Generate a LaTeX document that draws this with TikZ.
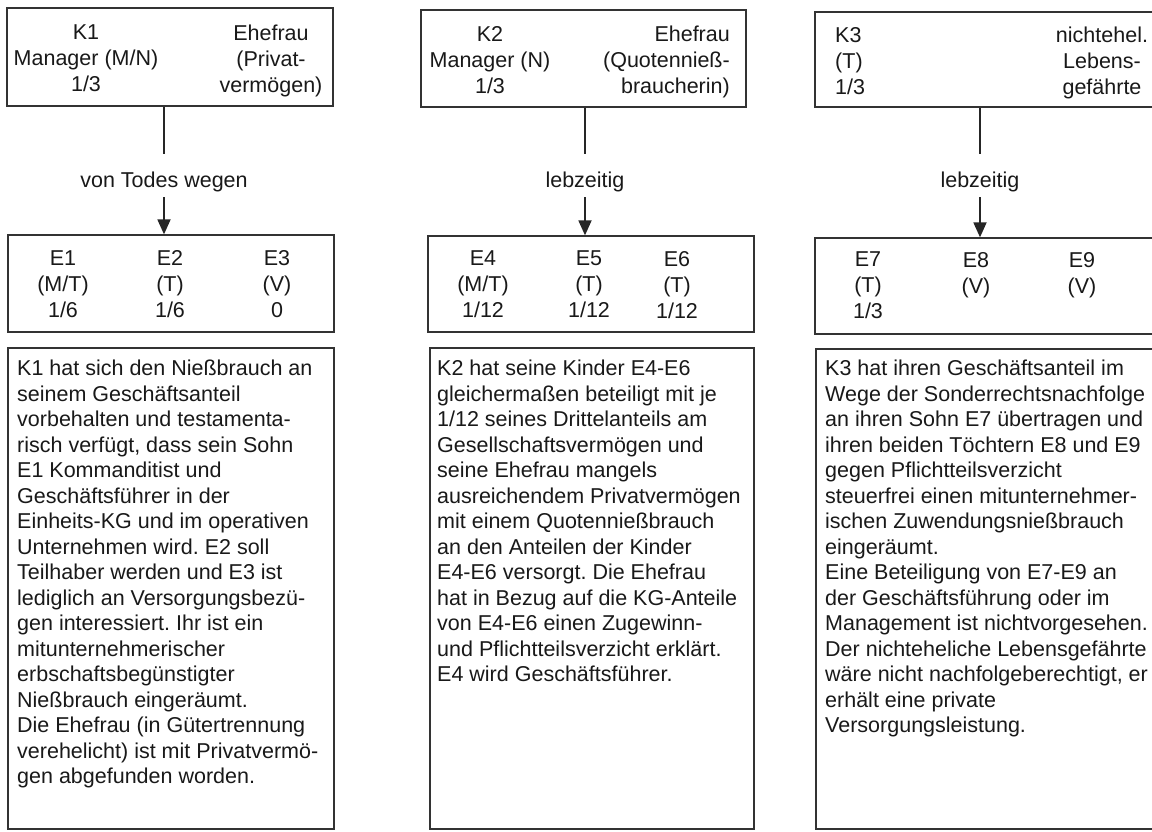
\documentclass[tikz,border=0pt]{standalone}
\usepackage{fontspec}
\setmainfont{Liberation Sans}
\usetikzlibrary{arrows.meta}
\frenchspacing
\begin{document}
\begin{tikzpicture}[x=1pt,y=-1pt,
  box/.style={draw=black!80,line width=1.3pt,rectangle,inner sep=0pt},
  txt/.style={inner sep=0pt,font=\fontsize{21.5pt}{26pt}\selectfont,text=black!90},
  body/.style={inner sep=0pt,anchor=north west,align=left,font=\fontsize{21.5pt}{25.5pt}\selectfont,text=black!90},
  conn/.style={draw=black!85,line width=1.3pt},
  arr/.style={draw=black!85,line width=1.8pt,-{Triangle[width=13pt,length=15pt]}}
]
\useasboundingbox (0,0) rectangle (1152,831);
\clip (0,0) rectangle (1152,831);
\fill[white] (0,0) rectangle (1152,831);

% top boxes
\node[box,minimum width=326pt,minimum height=98pt] (k1) at (170,57) {};
\node[box,minimum width=325pt,minimum height=97pt] (k2) at (583.5,58.5) {};
\node[box,minimum width=350pt,minimum height=95pt] (k3) at (990,59.5) {};

% middle boxes
\node[box,minimum width=326pt,minimum height=97pt] (m1) at (171,283.5) {};
\node[box,minimum width=326pt,minimum height=96pt] (m2) at (591,284) {};
\node[box,minimum width=350pt,minimum height=96pt] (m3) at (990,286) {};

% bottom boxes
\node[box,minimum width=326pt,minimum height=481pt] (b1) at (171,588.5) {};
\node[box,minimum width=324pt,minimum height=481pt] (b2) at (592,588.5) {};
\node[box,minimum width=349pt,minimum height=480pt] (b3) at (990.5,589) {};

% top texts
\node[txt,anchor=north,align=center] (k1a) at (86,25) {K1\\Manager (M/N)\\1/3};
\node[txt,anchor=north,align=center] (k1b) at (271,25) {Ehefrau\\(Privat-\\vermögen)};
\node[txt,anchor=north,align=center] (k2a) at (490,26) {K2\\Manager (N)\\1/3};
\node[txt,anchor=north east,align=right] (k2b) at (730,26) {Ehefrau\\(Quotennieß-\\braucherin)};
\node[txt,anchor=north west,align=left] (k3a) at (835,27) {K3\\(T)\\1/3};
\node[txt,anchor=north,align=center] (k3b) at (1102,27) {nichtehel.\\Lebens-\\gefährte};

% middle texts
\node[txt,anchor=north,align=center] (e1) at (63,250) {E1\\(M/T)\\1/6};
\node[txt,anchor=north,align=center] (e2) at (170,250) {E2\\(T)\\1/6};
\node[txt,anchor=north,align=center] (e3) at (277,250) {E3\\(V)\\0};
\node[txt,anchor=north,align=center] (e4) at (483,251) {E4\\(M/T)\\1/12};
\node[txt,anchor=north,align=center] (e5) at (589,251) {E5\\(T)\\1/12};
\node[txt,anchor=north,align=center] (e6) at (677,251) {E6\\(T)\\1/12};
\node[txt,anchor=north,align=center] (e7) at (868,252) {E7\\(T)\\1/3};
\node[txt,anchor=north,align=center] (e8) at (976,252) {E8\\(V)};
\node[txt,anchor=north,align=center] (e9) at (1082,252) {E9\\(V)};

% connector labels
\node[txt] (l1) at (164,182) {von Todes wegen};
\node[txt] (l2) at (585,182) {lebzeitig};
\node[txt] (l3) at (980,182) {lebzeitig};

\draw[conn] (k1.south -| l1) -- ([yshift=18pt]l1.north);
\draw[conn] (k2.south -| l2) -- ([yshift=18pt]l2.north);
\draw[conn] (k3.south -| l3) -- ([yshift=18pt]l3.north);
\draw[arr] ([yshift=-5pt]l1.south) -- (l1 |- m1.north);
\draw[arr] ([yshift=-5pt]l2.south) -- (l2 |- m2.north);
\draw[arr] ([yshift=-5pt]l3.south) -- (l3 |- m3.north);

% body texts
\node[body] (t1) at (17,360) {K1 hat sich den Nießbrauch an\\
seinem Geschäftsanteil\\
vorbehalten und testamenta-\\
risch verfügt, dass sein Sohn\\
E1 Kommanditist und\\
Geschäftsführer in der\\
Einheits-KG und im operativen\\
Unternehmen wird. E2 soll\\
Teilhaber werden und E3 ist\\
lediglich an Versorgungsbezü-\\
gen interessiert. Ihr ist ein\\
mitunternehmerischer\\
erbschaftsbegünstigter\\
Nießbrauch eingeräumt.\\
Die Ehefrau (in Gütertrennung\\
verehelicht) ist mit Privatvermö-\\
gen abgefunden worden.};

\node[body] (t2) at (437,360) {K2 hat seine Kinder E4-E6\\
gleichermaßen beteiligt mit je\\
1/12 seines Drittelanteils am\\
Gesellschaftsvermögen und\\
seine Ehefrau mangels\\
ausreichendem Privatvermögen\\
mit einem Quotennießbrauch\\
an den Anteilen der Kinder\\
E4-E6 versorgt. Die Ehefrau\\
hat in Bezug auf die KG-Anteile\\
von E4-E6 einen Zugewinn-\\
und Pflichtteilsverzicht erklärt.\\
E4 wird Geschäftsführer.};

\node[body] (t3) at (825,360) {K3 hat ihren Geschäftsanteil im\\
Wege der Sonderrechtsnachfolge\\
an ihren Sohn E7 übertragen und\\
ihren beiden Töchtern E8 und E9\\
gegen Pflichtteilsverzicht\\
steuerfrei einen mitunternehmer-\\
ischen Zuwendungsnießbrauch\\
eingeräumt.\\
Eine Beteiligung von E7-E9 an\\
der Geschäftsführung oder im\\
Management ist nichtvorgesehen.\\
Der nichteheliche Lebensgefährte\\
wäre nicht nachfolgeberechtigt, er\\
erhält eine private\\
Versorgungsleistung.};
\end{tikzpicture}
\end{document}
